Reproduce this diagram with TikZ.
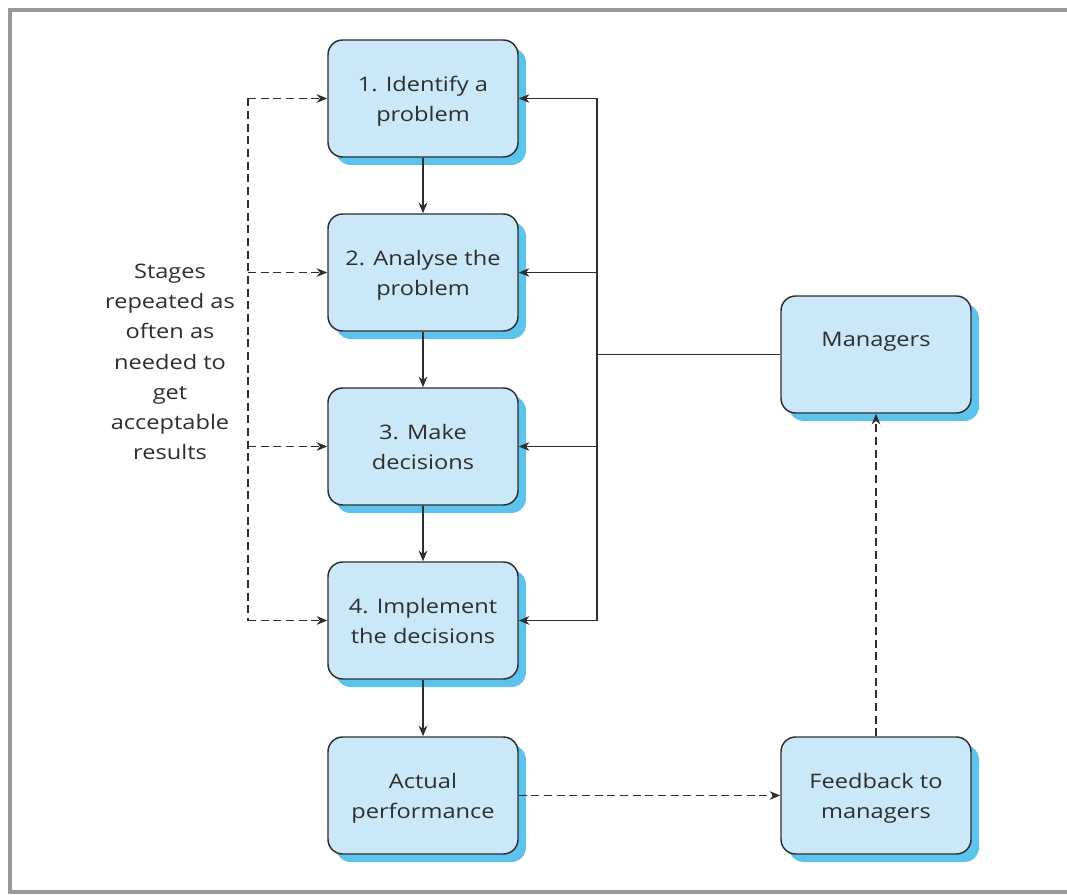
\documentclass[tikz,border=0pt]{standalone}
\usepackage{fontspec}
\setmainfont{Open Sans}[FakeStretch=1.18]
\usetikzlibrary{arrows.meta,shadows}
\definecolor{boxfill}{HTML}{CBE8F8}
\definecolor{boxshadow}{HTML}{5CC3EC}
\definecolor{framegray}{HTML}{999999}
\definecolor{ink}{HTML}{2E2E2E}
\begin{document}
\begin{tikzpicture}[x=0.75pt,y=-0.75pt,
  stagebox/.style={draw=ink, line width=1.1pt, fill=boxfill, rounded corners=11pt,
    minimum width=142.5pt, minimum height=87.75pt, inner sep=0pt, align=center,
    text depth=0pt, font=\fontsize{15}{22.5}\selectfont, text=ink,
    drop shadow={shadow xshift=6pt, shadow yshift=-6pt, fill=boxshadow, opacity=1}},
  flow/.style={draw=ink, line width=1.1pt, -{Stealth[length=8pt,width=6.5pt]}},
  plain/.style={draw=ink, line width=1.1pt},
  loop/.style={draw=ink, line width=1.1pt, dash pattern=on 6pt off 3.5pt, -{Stealth[length=8pt,width=6.5pt]}},
  loopline/.style={draw=ink, line width=1.1pt, dash pattern=on 6pt off 3.5pt}]
  \useasboundingbox (0,0) rectangle (1067,895);
  % outer frame, open on the right
  \draw[framegray, line width=3pt] (1070,10) -- (10,10) -- (10,892) -- (1070,892);

  % stages of the decision process
  \node[stagebox] (s1) at (423,98.5)  {1. Identify a\\problem};
  \node[stagebox] (s2) at (423,272.5) {2. Analyse the\\problem};
  \node[stagebox] (s3) at (423,446.5) {3. Make\\decisions};
  \node[stagebox] (s4) at (423,620.5) {4. Implement\\the decisions};
  \node[stagebox] (perf) at (423,795.5) {Actual\\performance};
  \node[stagebox] (mgr) at (876,354.5) {Managers\\\mbox{}};
  \node[stagebox] (fb) at (876,795.5) {Feedback to\\managers};

  % side note
  \node[align=center, font=\fontsize{15}{22.7}\selectfont, text=ink] (note) at (170,362)
    {Stages\\repeated as\\often as\\needed to\\get\\acceptable\\results};

  % main sequence
  \draw[flow] (s1) -- (s2);
  \draw[flow] (s2) -- (s3);
  \draw[flow] (s3) -- (s4);
  \draw[flow] (s4) -- (perf);

  % managers feed every stage
  \coordinate (busR) at (597,0);
  \draw[plain] (mgr.west) -- (mgr.west -| busR);
  \draw[plain] (s1.east -| busR) -- (s4.east -| busR);
  \draw[flow] (s1.east -| busR) -- (s1.east);
  \draw[flow] (s2.east -| busR) -- (s2.east);
  \draw[flow] (s3.east -| busR) -- (s3.east);
  \draw[flow] (s4.east -| busR) -- (s4.east);

  % repetition loop
  \coordinate (busL) at (248,0);
  \draw[loopline] (s1.west -| busL) -- (s4.west -| busL);
  \draw[loop] (s1.west -| busL) -- (s1.west);
  \draw[loop] (s2.west -| busL) -- (s2.west);
  \draw[loop] (s3.west -| busL) -- (s3.west);
  \draw[loop] (s4.west -| busL) -- (s4.west);

  % feedback
  \draw[loop] (perf) -- (fb);
  \draw[loop] (fb) -- (mgr);
\end{tikzpicture}
\end{document}
